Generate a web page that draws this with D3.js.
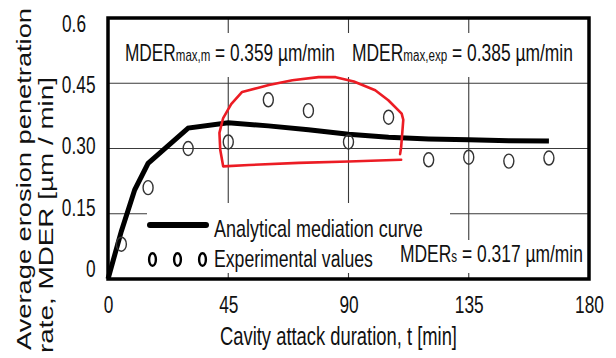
<!DOCTYPE html>
<html>
<head>
<meta charset="utf-8">
<script src="https://cdn.jsdelivr.net/npm/d3@7"></script>
<style>
  html, body { margin: 0; padding: 0; background: #fff; }
  svg { display: block; }
  text { font-family: "Liberation Sans", Arial, sans-serif; fill: #111; }
</style>
</head>
<body>
<svg id="chart" width="616" height="358"></svg>
<script>
// Analytical mediation curve of MDER (µm/min) versus attack time (min)
const curveTime = [0, 5, 10, 15, 30, 45, 60, 75, 90, 105, 120, 135, 150, 165];
const curveRate = [0, 0.11, 0.205, 0.266, 0.347, 0.359, 0.352, 0.343, 0.333, 0.326, 0.322, 0.320, 0.318, 0.317];

// Experimental MDER values
const expTime = [5, 15, 30, 45, 60, 75, 90, 105, 120, 135, 150, 165];
const expRate = [0.08, 0.21, 0.30, 0.315, 0.412, 0.387, 0.315, 0.372, 0.274, 0.28, 0.271, 0.278];

// Axis ticks
const xTicks = [0, 45, 90, 135, 180];
const yTicks = [0, 0.15, 0.30, 0.45, 0.6];
const yTickLabels = ["0", "0.15", "0.30", "0.45", "0.6"];

// Hand-drawn highlight around the maximum region (time, rate)
const outlineTime = [109.7, 90.0, 71.4, 52.8, 43.1, 42.0, 41.7, 43.1, 46.1, 50.2, 56.0, 60.2, 69.0, 78.8, 85.2, 92.0, 100.0, 104.9, 109.9, 110.5, 109.7, 109.3];
const outlineRate = [0.274, 0.270, 0.267, 0.262, 0.259, 0.297, 0.336, 0.370, 0.402, 0.430, 0.439, 0.446, 0.457, 0.464, 0.464, 0.454, 0.434, 0.411, 0.380, 0.366, 0.303, 0.287];

// Texts
const annMaxModel = { main: "MDER", sub: "max,m", rest: " = 0.359 µm/min" };
const annMaxExp = { main: "MDER", sub: "max,exp", rest: " = 0.385 µm/min" };
const annSteady = { main: "MDER", sub: "s", rest: " = 0.317 µm/min" };
const legendLabels = ["Analytical mediation curve", "Experimental values"];
const xTitle = "Cavity attack duration, t [min]";
const yTitle = ["Average erosion penetration", "rate, MDER [µm / min]"];

const svg = d3.select("#chart");

const x = d3.scaleLinear().domain([0, 180]).range([108, 589]);
const y = d3.scaleLinear().domain([0, 0.6]).range([279, 18]);
const yLab = d3.scaleLinear().domain([0, 0.6]).range([268, 22.5]);

const GRID = "#3a3a3a";

// grid
const grid = svg.append("g");
grid.selectAll("line.h").data(yTicks.filter(v => v > 0 && v < 0.6)).join("line")
  .attr("x1", x(0)).attr("x2", x(180))
  .attr("y1", d => y(d)).attr("y2", d => y(d))
  .attr("stroke", GRID).attr("stroke-width", 1.1);
grid.selectAll("line.v").data(xTicks.filter(v => v > 0 && v < 180)).join("line")
  .attr("x1", d => x(d)).attr("x2", d => x(d))
  .attr("y1", y(0.6)).attr("y2", y(0))
  .attr("stroke", GRID).attr("stroke-width", 1.1);

// white panels behind the annotations and legend
const panels = [
  [118, 33, 464, 44],
  [147, 203, 303, 70],
  [395, 240, 193, 33]
];
svg.append("g").selectAll("rect").data(panels).join("rect")
  .attr("x", d => d[0]).attr("y", d => d[1])
  .attr("width", d => d[2]).attr("height", d => d[3])
  .attr("fill", "#fff");

// analytical curve
const curvePts = curveTime.map((t, i) => [t, curveRate[i]]);
svg.append("path")
  .datum(curvePts)
  .attr("d", d3.line().x(d => x(d[0])).y(d => y(d[1])))
  .attr("fill", "none").attr("stroke", "#000")
  .attr("stroke-width", 5).attr("stroke-linejoin", "miter");

// experimental points
const expPts = expTime.map((t, i) => [t, expRate[i]]);
svg.append("g").selectAll("ellipse").data(expPts).join("ellipse")
  .attr("cx", d => x(d[0])).attr("cy", d => y(d[1]))
  .attr("rx", 5).attr("ry", 7)
  .attr("fill", "none").attr("stroke", "#333").attr("stroke-width", 1.4);

// red highlight
const outlinePts = outlineTime.map((t, i) => [t, outlineRate[i]]);
svg.append("path")
  .datum(outlinePts)
  .attr("d", d3.line().x(d => x(d[0])).y(d => y(d[1])))
  .attr("fill", "none").attr("stroke", "#ec1c24")
  .attr("stroke-width", 2.6).attr("stroke-linejoin", "round").attr("stroke-linecap", "round");

// text placed with horizontal squeeze to a target width
function fitText(parent, x0, y0, width, parts, size) {
  const g = parent.append("g").attr("transform", `translate(${x0},${y0})`);
  const t = g.append("text").attr("x", 0).attr("y", 0).attr("font-size", size);
  parts.forEach(p => t.append("tspan").attr("font-size", p[1] || size).text(p[0]));
  const natural = t.node().getComputedTextLength();
  g.attr("transform", `translate(${x0},${y0}) scale(${width / natural},1)`);
  return g;
}

fitText(svg, 125, 60.5, 210, [[annMaxModel.main], [annMaxModel.sub, 16], [annMaxModel.rest]], 24);
fitText(svg, 352, 60.5, 221, [[annMaxExp.main], [annMaxExp.sub, 16], [annMaxExp.rest]], 24);
fitText(svg, 400, 262, 183, [[annSteady.main], [annSteady.sub, 16], [annSteady.rest]], 24);

// legend
svg.append("line")
  .attr("x1", 150).attr("x2", 206).attr("y1", 225).attr("y2", 225)
  .attr("stroke", "#000").attr("stroke-width", 6).attr("stroke-linecap", "round");
svg.append("g").selectAll("ellipse").data([152.5, 177.5, 202.5]).join("ellipse")
  .attr("cx", d => d).attr("cy", 259.5).attr("rx", 3.4).attr("ry", 6.3)
  .attr("fill", "none").attr("stroke", "#000").attr("stroke-width", 2.4);
fitText(svg, 214, 237, 209, [[legendLabels[0]]], 24);
fitText(svg, 214, 267, 159, [[legendLabels[1]]], 24);

// axes (labels only)
const KX = 0.72;
const xAxis = svg.append("g").attr("transform", `translate(0,${y(0)})`)
  .call(d3.axisBottom(x).tickValues(xTicks).tickSize(0).tickFormat(d3.format("d")));
xAxis.select(".domain").remove();
xAxis.selectAll("text")
  .attr("font-size", 24).attr("font-family", null).attr("fill", "#111")
  .attr("y", 34.5).attr("dy", 0)
  .attr("transform", `scale(${KX},1)`);

const yAxis = svg.append("g").attr("transform", `translate(${x(0)},0)`)
  .call(d3.axisLeft(yLab).tickValues(yTicks).tickSize(0)
    .tickFormat((d, i) => yTickLabels[i]));
yAxis.select(".domain").remove();
yAxis.selectAll("text")
  .attr("font-size", 24).attr("font-family", null).attr("fill", "#111")
  .attr("x", d => (d === 0.6 ? -22 : -12.5) / KX).attr("dy", "0.36em")
  .attr("transform", `scale(${KX},1)`);

fitText(svg, 220, 345, 237, [[xTitle]], 25);

// rotated y-axis title (two lines)
[[31, 350, 342], [53, 353, 276]].forEach((p, i) => {
  const g = svg.append("g").attr("transform", `translate(${p[0]},${p[1]}) scale(0.73,1) rotate(-90)`);
  const t = g.append("text").attr("font-size", 27).text(yTitle[i]);
  const natural = t.node().getComputedTextLength();
  t.attr("textLength", p[2]).attr("lengthAdjust", "spacingAndGlyphs");
});

// plot frame
svg.append("rect")
  .attr("x", x(0)).attr("y", y(0.6))
  .attr("width", x(180) - x(0)).attr("height", y(0) - y(0.6))
  .attr("fill", "none").attr("stroke", "#000").attr("stroke-width", 3.5);
</script>
</body>
</html>
